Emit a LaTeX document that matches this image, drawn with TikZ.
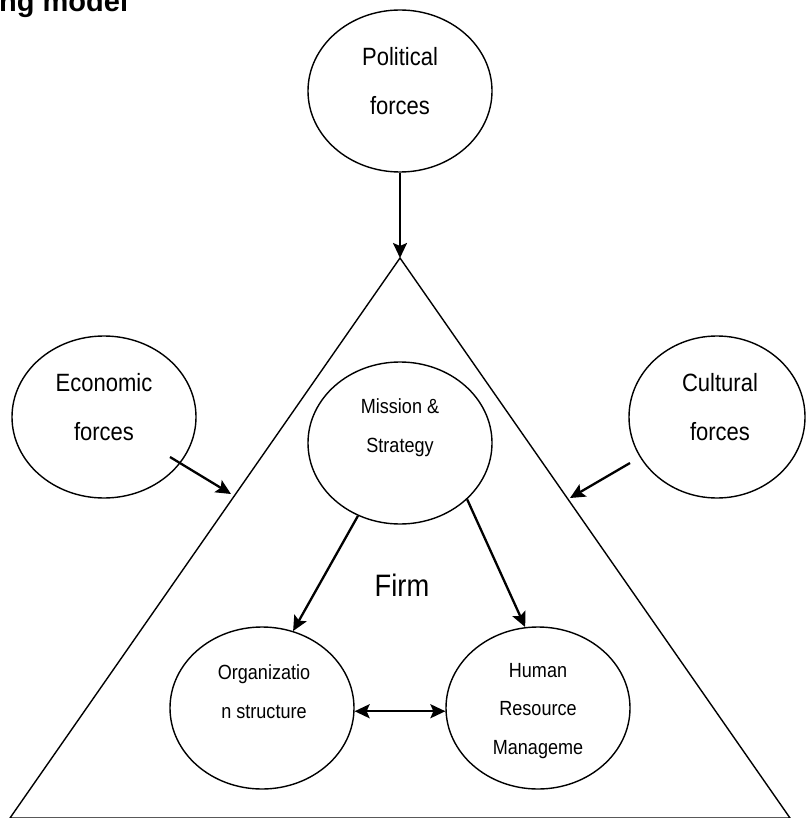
\documentclass[tikz,border=0pt]{standalone}
\usepackage{fontspec}
\setmainfont{Liberation Sans}[FakeStretch=0.88]
\newfontfamily\titlefont{Liberation Sans}
\usepackage{tikz}
\usetikzlibrary{shapes,arrows.meta,positioning,calc}

\begin{document}
\begin{tikzpicture}[x=1pt, y=-1pt,
    >={Stealth[length=15pt, width=14pt, inset=3pt]},
    bubble/.style={draw, ellipse, line width=1.4pt, minimum width=184pt, minimum height=162pt, inner sep=0pt},
    big/.style={align=center, font=\fontsize{25}{49}\selectfont},
    small/.style={align=center, font=\fontsize{20.5}{38.5}\selectfont},
    arr/.style={line width=2.3pt, ->}]
    \useasboundingbox (0,0) rectangle (805,818);
    % Title
    \node [anchor=base west, inner sep=0pt, font=\titlefont\bfseries\fontsize{29}{29}\selectfont] (title) at (-1,12) {ng model};
    % Firm triangle
    \coordinate (apex) at (400,258);
    \coordinate (bl) at (10,818);
    \coordinate (br) at (790,818);
    \draw [line width=1.4pt] (apex) -- (bl) -- (br) -- cycle;
    \node [font=\fontsize{31}{31}\selectfont] (firm) at (402,585) {Firm};
    % Forces
    \node [bubble] (pol) at (400,91) {}; \node [big] (polt) at (400,81.5) {Political\\forces};
    \node [bubble] (eco) at (104,417) {}; \node [big] (ecot) at (104,407) {Economic\\forces};
    \node [bubble, minimum width=176pt] (cul) at (717,417) {}; \node [big] (cult) at (720,407) {Cultural\\forces};
    % Inside the firm
    \node [bubble] (mis) at (400,443) {}; \node [small] (mist) at (400,427.5) {Mission \&\\Strategy};
    \node [bubble] (org) at (262,708) {}; \node [small] (orgt) at (264,691.5) {Organizatio\\n structure};
    \node [bubble] (hrm) at (538,708) {}; \node [small] (hrmt) at (538,711) {Human\\Resource\\Manageme};
    % Arrows
    \coordinate (ecoa) at (170,457); \coordinate (ecob) at (231,494);
    \coordinate (cula) at (630,463); \coordinate (culb) at (570,498);
    \draw [arr] (pol.south) -- (apex);
    \draw [arr] (ecoa) -- (ecob);
    \draw [arr] (cula) -- (culb);
    \draw [arr] (mis.240) -- (org.68);
    \draw [arr] (mis.-40) -- (hrm.99);
    \draw [arr, <->] (org.-2) -- (hrm.182);
\end{tikzpicture}
\end{document}
